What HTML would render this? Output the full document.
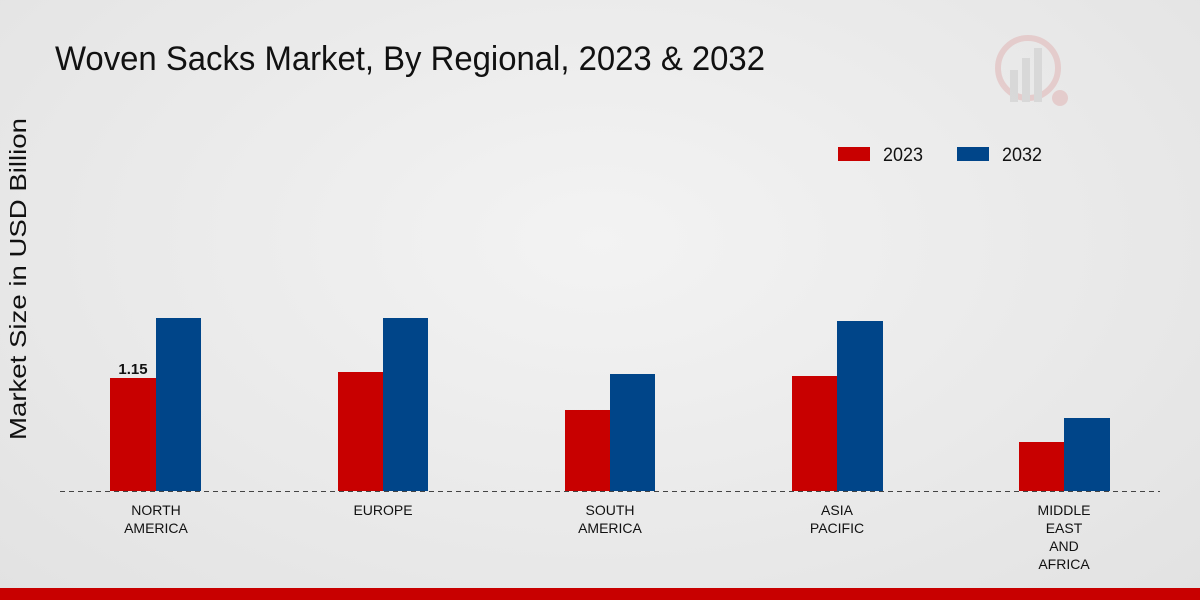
<!DOCTYPE html>
<html><head><meta charset="utf-8"><style>
html,body{margin:0;padding:0;width:1200px;height:600px;overflow:hidden}
body{background:radial-gradient(ellipse at 50% 40%,#f3f3f3 0%,#e9e9e9 60%,#e2e2e2 100%);font-family:"Liberation Sans",sans-serif}
</style></head><body>
<svg width="1200" height="600" xmlns="http://www.w3.org/2000/svg" style="position:absolute;left:0;top:0">
<text x="55" y="70" font-size="34" fill="#111" textLength="710" lengthAdjust="spacingAndGlyphs">Woven Sacks Market, By Regional, 2023 &amp; 2032</text>
<g opacity="0.35">
<circle cx="1028" cy="68" r="30" fill="none" stroke="#d99" stroke-width="6"/>
<rect x="1010" y="70" width="8" height="32" fill="#bbb"/>
<rect x="1022" y="58" width="8" height="44" fill="#bbb"/>
<rect x="1034" y="48" width="8" height="54" fill="#bbb"/>
<circle cx="1060" cy="98" r="8" fill="#d99"/>
</g>
<rect x="838" y="147" width="32" height="14" fill="#c80000"/>
<text x="883" y="161" font-size="19" fill="#111" textLength="40" lengthAdjust="spacingAndGlyphs">2023</text>
<rect x="957" y="147" width="32" height="14" fill="#004589"/>
<text x="1002" y="161" font-size="19" fill="#111" textLength="40" lengthAdjust="spacingAndGlyphs">2032</text>
<text transform="translate(26,279) rotate(-90)" font-size="23" fill="#111" text-anchor="middle" textLength="322" lengthAdjust="spacingAndGlyphs">Market Size in USD Billion</text>
<g fill="#c80000">
<rect x="110" y="378" width="46" height="113"/>
<rect x="338" y="372" width="45" height="119"/>
<rect x="565" y="410" width="45" height="81"/>
<rect x="792" y="376" width="45" height="115"/>
<rect x="1019" y="442" width="45" height="49"/>
</g>
<g fill="#004589">
<rect x="156" y="318" width="45" height="173"/>
<rect x="383" y="318" width="45" height="173"/>
<rect x="610" y="374" width="45" height="117"/>
<rect x="837" y="321" width="46" height="170"/>
<rect x="1064" y="418" width="46" height="73"/>
</g>
<line x1="60" y1="491.5" x2="1160" y2="491.5" stroke="#444" stroke-width="1" stroke-dasharray="5,4"/>
<text x="133" y="374" font-size="15" font-weight="bold" fill="#111" text-anchor="middle">1.15</text>
<g font-size="14" fill="#111" text-anchor="middle">
<text x="156" y="515">NORTH</text><text x="156" y="533">AMERICA</text>
<text x="383" y="515">EUROPE</text>
<text x="610" y="515">SOUTH</text><text x="610" y="533">AMERICA</text>
<text x="837" y="515">ASIA</text><text x="837" y="533">PACIFIC</text>
<text x="1064" y="515">MIDDLE</text><text x="1064" y="533">EAST</text><text x="1064" y="551">AND</text><text x="1064" y="569">AFRICA</text>
</g>
<rect x="0" y="588" width="1200" height="12" fill="#c80000"/>
</svg>
</body></html>
